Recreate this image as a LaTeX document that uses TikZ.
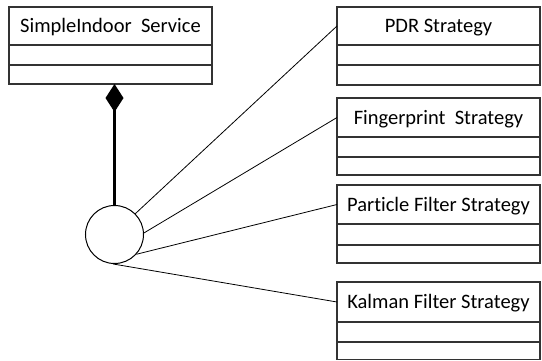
\documentclass[tikz,border=0pt]{standalone}
\usepackage{fontspec}
\setmainfont[Ligatures=NoCommon]{Carlito}
\usetikzlibrary{arrows.meta,positioning}
\definecolor{edge}{HTML}{333333}
\tikzset{
  classtitle/.style={draw=edge, line width=1.2pt, anchor=north west, minimum width=203pt,
     inner sep=0pt, outer sep=0pt, text height=13.2pt, text depth=0pt,
     font=\fontsize{20.5}{24}\selectfont},
  classpart/.style={draw=edge, line width=1.2pt, anchor=north west, minimum width=203pt,
     inner sep=0pt, outer sep=0pt},
  link/.style={draw=black, line width=0.8pt},
}
\begin{document}
\begin{tikzpicture}[x=1pt,y=-1pt]
\useasboundingbox (0,0) rectangle (542,360);
% SimpleIndoor Service
\node[classtitle, minimum height=38pt] (svc) at (9,7) {SimpleIndoor\ \ Service};
\node[classpart, minimum height=20pt] (svcA) at (svc.south west) {};
\node[classpart, minimum height=19pt] (svcB) at (svcA.south west) {};
% PDR
\node[classtitle, minimum height=38pt] (pdr) at (337,7) {PDR Strategy};
\node[classpart, minimum height=20pt] (pdrA) at (pdr.south west) {};
\node[classpart, minimum height=20pt] (pdrB) at (pdrA.south west) {};
% Fingerprint
\node[classtitle, minimum height=39pt] (fp) at (337,98) {Fingerprint\ \ Strategy};
\node[classpart, minimum height=20pt] (fpA) at (fp.south west) {};
\node[classpart, minimum height=18pt] (fpB) at (fpA.south west) {};
% Particle
\node[classtitle, minimum height=39pt] (pf) at (337,185) {Particle Filter Strategy};
\node[classpart, minimum height=21pt] (pfA) at (pf.south west) {};
\node[classpart, minimum height=18pt] (pfB) at (pfA.south west) {};
% Kalman
\node[classtitle, minimum height=40pt] (kf) at (337,282) {Kalman Filter Strategy};
\node[classpart, minimum height=20pt] (kfA) at (kf.south west) {};
\node[classpart, minimum height=17.5pt] (kfB) at (kfA.south west) {};
% interface circle
\node[draw=black, line width=1pt, circle, minimum size=58pt, inner sep=0pt] (circ) at (114.5,234.5) {};
% composition
\draw[line width=3pt, -{Diamond[length=28pt,width=18pt]}] (circ.north) -- (circ.north |- svcB.south);
% links
\draw[link] (circ.45) -- (pdr.west);
\draw[link] (circ.3) -- (fp.west);
\draw[link] (circ.-42) -- (pf.west);
\draw[link] (circ.-93) -- (kf.west);
\end{tikzpicture}
\end{document}
